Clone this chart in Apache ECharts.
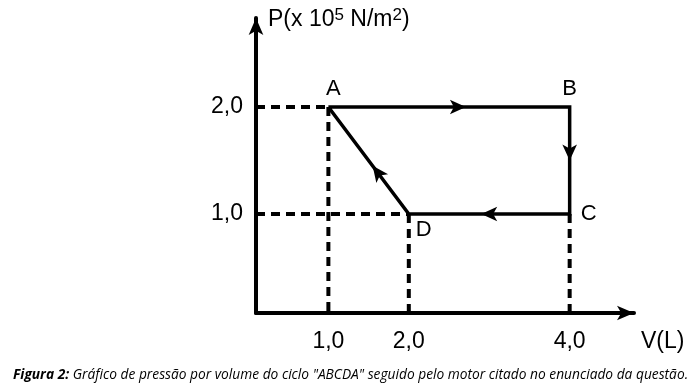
<!DOCTYPE html>
<html>
<head>
<meta charset="utf-8">
<script src="https://cdn.jsdelivr.net/npm/echarts@6/dist/echarts.min.js"></script>
<style>html,body{margin:0;padding:0;background:#fff}#c{width:695px;height:385px}</style>
</head>
<body>
<div id="c"></div>
<script>
// Data
const pointNames = ['A', 'B', 'C', 'D'];
const volumes = [1.0, 4.0, 4.0, 2.0];     // V (L)
const pressures = [2.0, 2.0, 1.0, 1.0];   // P (x10^5 N/m^2)
const xTickValues = [1.0, 2.0, 4.0];
const yTickValues = [1.0, 2.0];
const captionBold = 'Figura 2:';
const captionText = ' Gráfico de pressão por volume do ciclo "ABCDA" seguido pelo motor citado no enunciado da questão.';

const X_MIN = 0.1, X_MAX = 4.8, Y_MIN = 0.075, Y_MAX = 2.832;
const fmt = v => Number(v).toFixed(1).replace('.', ',');

const pts = volumes.map((v, i) => [v, pressures[i]]);
const cycle = pts.concat([pts[0]]);

const guides = [];
guides.push([[X_MIN, pressures[0]], pts[0]]);
guides.push([[X_MIN, pressures[3]], pts[3]]);
[0, 3, 2].forEach(i => guides.push([pts[i], [volumes[i], Y_MIN]]));

const labelPos = [
  {position: 'top', offset: [5, -2]},
  {position: 'top', offset: [0, -2]},
  {position: 'right', offset: [6, 0]},
  {position: 'bottom', offset: [15, 0]}
];

const arrowFrac = [0.57, 0.5, 0.55, 0.45];
const arrowPts = [];
for (let i = 0; i < 4; i++) {
  const a = cycle[i], b = cycle[i + 1], f = arrowFrac[i];
  arrowPts.push([a[0] + (b[0] - a[0]) * f, a[1] + (b[1] - a[1]) * f]);
}

const chart = echarts.init(document.getElementById('c'));
const baseFont = 'Liberation Sans, Arial, sans-serif';
const FS = 23;

const series = [];
guides.forEach(g => series.push({
  type: 'line', data: g, symbol: 'none', silent: true,
  lineStyle: {color: '#000', width: 4, type: [9, 6]}
}));
series.push({
  type: 'line', data: cycle, symbol: 'none',
  lineStyle: {color: '#000', width: 3.5, join: 'miter'}
});
series.push({
  type: 'scatter', symbol: 'circle', symbolSize: 0, itemStyle: {color: '#000'},
  data: pts.map((p, i) => ({
    value: p,
    label: Object.assign({show: true, formatter: pointNames[i], color: '#000', opacity: 1, fontSize: FS - 1, fontFamily: baseFont}, labelPos[i])
  }))
});
series.push({
  id: 'arrows', type: 'scatter', symbol: 'arrow', symbolSize: [11, 16],
  itemStyle: {color: '#000', opacity: 1},
  data: arrowPts.map(p => ({value: p, symbolRotate: 0}))
});

chart.setOption({
  animation: false,
  grid: {left: 256, top: 18, width: 378, height: 295},
  xAxis: {
    type: 'value', min: X_MIN, max: X_MAX,
    name: 'V(L)', nameLocation: 'end', nameGap: 7,
    nameTextStyle: {color: '#000', fontSize: FS, fontFamily: baseFont, align: 'left', verticalAlign: 'top', padding: [17, 0, 0, 0]},
    axisLine: {show: true, lineStyle: {color: '#000', width: 4}, symbol: ['none', 'arrow'], symbolSize: [11, 17]},
    axisTick: {show: false},
    splitLine: {show: false},
    axisLabel: {customValues: xTickValues, formatter: fmt, color: '#000', fontSize: FS, fontFamily: baseFont, margin: 17}
  },
  yAxis: {
    type: 'value', min: Y_MIN, max: Y_MAX,
    name: 'P(x 10{sup|5} N/m{sup|2})', nameLocation: 'end', nameGap: -2,
    nameTextStyle: {color: '#000', fontSize: FS, fontFamily: baseFont, align: 'left', verticalAlign: 'middle', padding: [0, 0, 0, 12],
      rich: {sup: {fontSize: 17, verticalAlign: 'top', color: '#000', fontFamily: baseFont, padding: [0, 0, 9, 0]}}},
    axisLine: {show: true, lineStyle: {color: '#000', width: 4}, symbol: ['none', 'arrow'], symbolSize: [11, 17]},
    axisTick: {show: false},
    splitLine: {show: false},
    axisLabel: {customValues: yTickValues, formatter: fmt, color: '#000', fontSize: FS, fontFamily: baseFont, margin: 13}
  },
  title: {
    text: '{b|' + captionBold + '}{t|' + captionText + '}',
    left: 8, top: 363,
    textStyle: {fontWeight: 'normal', rich: {
      b: {fontFamily: 'Open Sans', fontStyle: 'italic', fontWeight: 'bold', fontSize: 13.75, color: '#000'},
      t: {fontFamily: 'Open Sans', fontStyle: 'italic', fontWeight: 'normal', fontSize: 13.75, color: '#000'}
    }}
  },
  series: series
});

const rot = arrowPts.map((p, i) => {
  const a = chart.convertToPixel({gridIndex: 0}, cycle[i]);
  const b = chart.convertToPixel({gridIndex: 0}, cycle[i + 1]);
  const dx = b[0] - a[0], dy = -(b[1] - a[1]);
  return Math.atan2(dy, dx) * 180 / Math.PI - 90;
});
chart.setOption({series: [{id: 'arrows', data: arrowPts.map((p, i) => ({value: p, symbolRotate: rot[i]}))}]});
</script>
</body>
</html>
